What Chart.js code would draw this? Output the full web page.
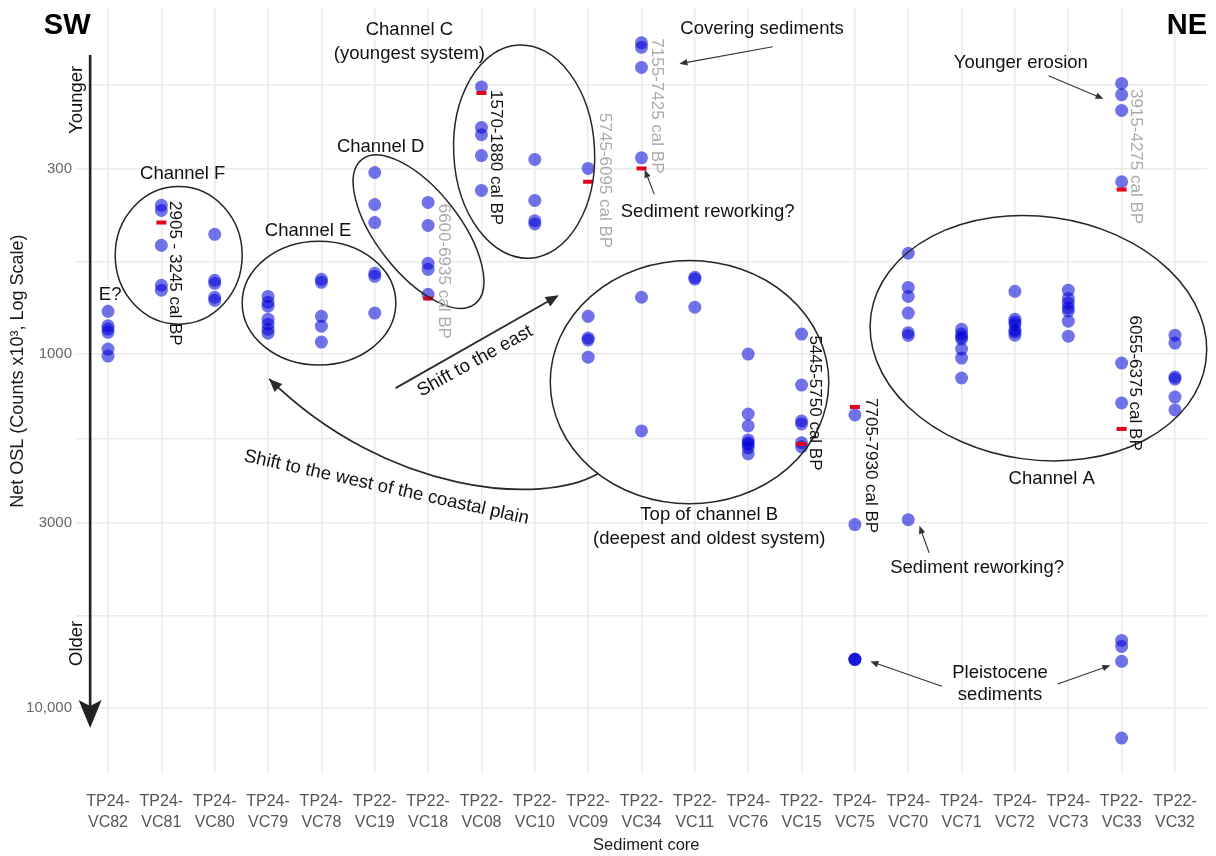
<!DOCTYPE html>
<html>
<head>
<meta charset="utf-8">
<title>Net OSL by sediment core</title>
<script src="https://cdn.jsdelivr.net/npm/chart.js@4.4.1/dist/chart.umd.min.js"></script>
<style>
  html, body { margin: 0; padding: 0; background: #fff; }
  #wrap { width: 1216px; height: 856px; position: relative; }
</style>
</head>
<body>
<div id="wrap"><canvas id="oslChart"></canvas></div>
<script>
const FONT = "'Liberation Sans', Arial, Helvetica, sans-serif";

// cores ordered SW -> NE
const cores = [
  'TP24-VC82', 'TP24-VC81', 'TP24-VC80', 'TP24-VC79', 'TP24-VC78', 'TP22-VC19', 'TP22-VC18',
  'TP22-VC08', 'TP22-VC10', 'TP22-VC09', 'TP22-VC34', 'TP22-VC11', 'TP24-VC76', 'TP22-VC15',
  'TP24-VC75', 'TP24-VC70', 'TP24-VC71', 'TP24-VC72', 'TP24-VC73', 'TP22-VC33', 'TP22-VC32'
];

// net OSL (counts x10^3) per core, same order as cores
const oslByCore = [
  [757, 832, 850, 868, 968, 1013],
  [380, 393, 493, 639, 660],
  [459, 619, 631, 691, 705],
  [687, 714, 732, 797, 823, 851, 873],
  [615, 627, 782, 834, 925],
  [307, 378, 425, 591, 603, 766],
  [373, 433, 554, 576, 678],
  [176, 229, 240, 275, 345],
  [282, 368, 420, 429],
  [299, 782, 901, 913, 1020],
  [132, 136, 155, 279, 691, 1648],
  [607, 614, 737],
  [1000, 1476, 1595, 1747, 1781, 1800, 1840, 1913],
  [878, 1223, 1544, 1575, 1781, 1828],
  [1485, 3031, 7278, 7278, 7278],
  [519, 648, 687, 766, 870, 886, 2935],
  [851, 878, 895, 907, 968, 1026, 1168],
  [665, 797, 812, 825, 855, 866, 884],
  [660, 696, 718, 740, 755, 807, 890],
  [172, 185, 205, 326, 1060, 1374, 6436, 6691, 7374, 12148],
  [884, 931, 1161, 1176, 1322, 1438]
];

// radiocarbon-dated sample depths (red marks)
const datedCores = ['TP24-VC81', 'TP22-VC18', 'TP22-VC08', 'TP22-VC09', 'TP22-VC34', 'TP22-VC15', 'TP24-VC75', 'TP22-VC33', 'TP22-VC33'];
const datedOsl = [425, 696, 183, 326, 299, 1793, 1410, 343, 1627];

const oslTicks = [100, 300, 1000, 3000, 10000];
const oslTickLabels = ['100', '300', '1000', '3000', '10,000'];
const oslMin = 106, oslMax = 15244;

// annotation positions are [core index, log10(OSL)]
const notes = [
  { text: 'Channel F', at: [1.40, 2.490] },
  { text: 'Channel E', at: [3.75, 2.651] },
  { text: 'Channel D', at: [5.11, 2.414] },
  { text: 'Channel C', at: [5.65, 2.085] },
  { text: '(youngest system)', at: [5.65, 2.152] },
  { text: 'Covering sediments', at: [12.26, 2.082] },
  { text: 'Younger erosion', at: [17.11, 2.177] },
  { text: 'Sediment reworking?', at: [11.24, 2.597] },
  { text: 'Top of channel B', at: [11.27, 3.454] },
  { text: '(deepest and oldest system)', at: [11.27, 3.521] },
  { text: 'Channel A', at: [17.69, 3.352] },
  { text: 'Sediment reworking?', at: [16.29, 3.603] },
  { text: 'Pleistocene', at: [16.72, 3.901] },
  { text: 'sediments', at: [16.72, 3.963] },
  { text: 'E?', at: [0.04, 2.834] },
  { text: 'Shift to the east', at: [6.88, 3.020], rot: -29 },
  { text: 'Shift to the west of the coastal plain', at: [5.22, 3.377], rot: 12.5 }
];

const calLabels = [
  { text: '2905 - 3245 cal BP', at: [1.25, 2.772] },
  { text: '6600-6935 cal BP', at: [6.29, 2.766], grey: true },
  { text: '1570-1880 cal BP', at: [7.26, 2.445] },
  { text: '5745-6095 cal BP', at: [9.31, 2.510], grey: true },
  { text: '7155-7425 cal BP', at: [10.28, 2.299], grey: true },
  { text: '3915-4275 cal BP', at: [19.27, 2.442], grey: true },
  { text: '5445-5750 cal BP', at: [13.25, 3.138] },
  { text: '7705-7930 cal BP', at: [14.29, 3.315] },
  { text: '6055-6375 cal BP', at: [19.25, 3.082] }
];

// channel outlines: radii in core-spacing units, rotation in degrees
const channelOutlines = [
  { at: [1.325, 2.721], rx: 1.19, ry: 1.29, rot: 0 },   // F
  { at: [3.955, 2.856], rx: 1.44, ry: 1.16, rot: 0 },   // E
  { at: [5.82, 2.654], rx: 1.72, ry: 0.78, rot: 52 },   // D
  { at: [7.80, 2.428], rx: 1.32, ry: 2.00, rot: -3 },   // C
  { at: [10.90, 3.079], rx: 2.61, ry: 2.28, rot: 0 },   // B
  { at: [17.44, 2.955], rx: 3.17, ry: 2.28, rot: 8 }    // A
];

const pointers = [
  { from: [12.46, 2.132], to: [10.71, 2.180] },
  { from: [10.24, 2.549], to: [10.06, 2.479] },
  { from: [17.63, 2.214], to: [18.66, 2.279] },
  { from: [15.39, 3.561], to: [15.21, 3.485] },
  { from: [15.63, 3.938], to: [14.29, 3.868] },
  { from: [17.80, 3.932], to: [18.79, 3.879] }
];

const shiftEast = [[5.39, 3.096], [8.45, 2.834]];
const shiftWest = [[9.18, 3.338], [8.15, 3.428], [5.26, 3.400], [3.02, 3.070]];

const points = [];
oslByCore.forEach((vals, i) => vals.forEach(v => points.push({ x: i, y: v })));
const redMarks = datedCores.map((c, k) => ({ x: cores.indexOf(c), y: datedOsl[k] }));

const gridValues = [];
oslTicks.forEach((t, i) => {
  if (i > 0) gridValues.push(Math.sqrt(t * oslTicks[i - 1]));
  gridValues.push(t);
});

function drawText(ctx, text, x, y, o = {}) {
  ctx.save();
  ctx.translate(x, y);
  ctx.rotate((o.rot || 0) * Math.PI / 180);
  ctx.font = `${o.weight || 'normal'} ${o.size || 18.5}px ${FONT}`;
  ctx.fillStyle = o.color || '#111';
  ctx.textAlign = o.align || 'center';
  ctx.textBaseline = 'middle';
  ctx.fillText(text, 0, 0);
  ctx.restore();
}

function arrowHead(ctx, x, y, ang, len, half, notch = 0) {
  const c = Math.cos(ang), s = Math.sin(ang);
  ctx.beginPath();
  ctx.moveTo(x, y);
  ctx.lineTo(x - len * c + half * s, y - len * s - half * c);
  ctx.lineTo(x - (len - notch) * c, y - (len - notch) * s);
  ctx.lineTo(x - len * c - half * s, y - len * s + half * c);
  ctx.closePath();
  ctx.fill();
}

const overlay = {
  id: 'overlay',
  afterDraw(chart) {
    const { ctx, scales: { x, y } } = chart;
    const P = ([i, l]) => [x.getPixelForValue(i), y.getPixelForValue(Math.pow(10, l))];
    const step = x.getPixelForValue(1) - x.getPixelForValue(0);

    ctx.save();
    // channel ellipses
    ctx.strokeStyle = '#262626';
    ctx.lineWidth = 1.5;
    channelOutlines.forEach(e => {
      const [cx, cy] = P(e.at);
      ctx.beginPath();
      ctx.ellipse(cx, cy, e.rx * step, e.ry * step, e.rot * Math.PI / 180, 0, Math.PI * 2);
      ctx.stroke();
    });

    // small pointer arrows
    ctx.strokeStyle = '#333';
    ctx.fillStyle = '#333';
    ctx.lineWidth = 1.1;
    pointers.forEach(p => {
      const [x0, y0] = P(p.from), [x1, y1] = P(p.to);
      const ang = Math.atan2(y1 - y0, x1 - x0);
      ctx.beginPath();
      ctx.moveTo(x0, y0);
      ctx.lineTo(x1 - 5 * Math.cos(ang), y1 - 5 * Math.sin(ang));
      ctx.stroke();
      arrowHead(ctx, x1, y1, ang, 8, 3.3);
    });

    // shift arrows
    ctx.strokeStyle = '#2a2a2a';
    ctx.fillStyle = '#2a2a2a';
    ctx.lineWidth = 1.8;
    {
      const [x0, y0] = P(shiftEast[0]), [x1, y1] = P(shiftEast[1]);
      const ang = Math.atan2(y1 - y0, x1 - x0);
      ctx.beginPath();
      ctx.moveTo(x0, y0);
      ctx.lineTo(x1 - 8 * Math.cos(ang), y1 - 8 * Math.sin(ang));
      ctx.stroke();
      arrowHead(ctx, x1, y1, ang, 13, 5.5);
    }
    {
      const [a, b, c, d] = shiftWest.map(P);
      ctx.beginPath();
      ctx.moveTo(a[0], a[1]);
      ctx.bezierCurveTo(b[0], b[1], c[0], c[1], d[0], d[1]);
      ctx.stroke();
      arrowHead(ctx, d[0], d[1], Math.atan2(d[1] - c[1], d[0] - c[0]), 13, 5.5);
    }

    // age direction arrow beside the y axis
    {
      const [ax, top] = P([-0.335, 2.155]);
      const [, tip] = P([-0.335, 4.056]);
      ctx.strokeStyle = '#222';
      ctx.fillStyle = '#222';
      ctx.lineWidth = 2.6;
      ctx.beginPath();
      ctx.moveTo(ax, top);
      ctx.lineTo(ax, tip - 20);
      ctx.stroke();
      arrowHead(ctx, ax, tip, Math.PI / 2, 28, 11.5, 6);
    }
    ctx.restore();

    notes.forEach(n => { const [px, py] = P(n.at); drawText(ctx, n.text, px, py, { rot: n.rot }); });
    calLabels.forEach(n => {
      const [px, py] = P(n.at);
      drawText(ctx, n.text, px, py, { rot: 90, size: 17, color: n.grey ? '#ababab' : '#111' });
    });

    let [px, py] = P([-0.58, 2.282]);
    drawText(ctx, 'Younger', px, py, { rot: -90 });
    [px, py] = P([-0.58, 3.817]);
    drawText(ctx, 'Older', px, py, { rot: -90 });
    [px, py] = P([-1.68, 3.048]);
    drawText(ctx, 'Net OSL (Counts x10³, Log Scale)', px, py, { rot: -90, size: 18, color: '#1a1a1a' });
    [px, py] = P([-0.765, 2.073]);
    drawText(ctx, 'SW', px, py, { size: 29, weight: 'bold', color: '#000' });
    [px, py] = P([20.6, 2.073]);
    drawText(ctx, 'NE', px, py, { size: 29, weight: 'bold', color: '#000', align: 'right' });
    [px, py] = P([10.09, 4.389]);
    drawText(ctx, 'Sediment core', px, py, { size: 16.5, color: '#1a1a1a' });
  }
};

new Chart(document.getElementById('oslChart'), {
  type: 'scatter',
  data: {
    datasets: [
      {
        label: 'Dated sample',
        data: redMarks,
        pointStyle: 'line',
        pointRadius: 5,
        pointBorderColor: '#e3001b',
        pointBorderWidth: 4,
        order: 0
      },
      {
        label: 'Net OSL',
        data: points,
        pointRadius: 6.5,
        pointBackgroundColor: 'rgba(0, 0, 215, 0.55)',
        pointBorderWidth: 0,
        order: 1
      }
    ]
  },
  options: {
    responsive: true,
    maintainAspectRatio: false,
    animation: false,
    layout: { padding: { top: 7, right: 4, left: 0, bottom: 0 } },
    plugins: { legend: { display: false }, tooltip: { enabled: false } },
    scales: {
      x: {
        type: 'linear',
        min: -0.6,
        max: 20.6,
        afterBuildTicks: s => { s.ticks = cores.map((c, i) => ({ value: i })); },
        afterFit: s => { s.height = 83; s.paddingLeft = 0; s.paddingRight = 0; },
        border: { display: false },
        grid: { color: '#ebebeb', lineWidth: 1.6, drawTicks: false },
        ticks: {
          autoSkip: false,
          maxRotation: 0,
          padding: 18,
          color: '#555',
          font: { family: FONT, size: 16, lineHeight: 1.3 },
          callback: v => { const [a, b] = cores[v].split('-'); return [a + '-', b]; }
        }
      },
      y: {
        type: 'logarithmic',
        reverse: true,
        min: oslMin,
        max: oslMax,
        afterBuildTicks: s => {
          s.ticks = gridValues.filter(v => v >= oslMin && v <= oslMax).map(v => ({ value: v }));
        },
        afterFit: s => { s.width = 76; s.paddingTop = 0; s.paddingBottom = 0; },
        border: { display: false },
        grid: { color: '#ebebeb', lineWidth: 1.6, drawTicks: false },
        ticks: {
          padding: 4,
          color: '#666',
          font: { family: FONT, size: 15 },
          callback: v => { const k = oslTicks.indexOf(v); return k >= 0 ? oslTickLabels[k] : ''; }
        }
      }
    }
  },
  plugins: [overlay]
});
</script>
</body>
</html>
